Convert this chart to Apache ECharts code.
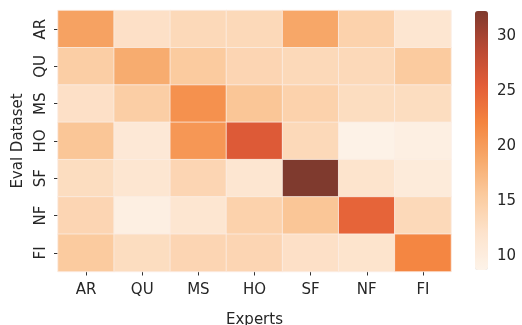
<!DOCTYPE html>
<html>
<head>
<meta charset="utf-8">
<script src="https://cdn.jsdelivr.net/npm/echarts@6/dist/echarts.min.js"></script>
<style>html,body{margin:0;padding:0;background:#fff}#c{width:522px;height:325px}</style>
</head>
<body>
<div id="c"></div>
<script>
var experts = ['AR', 'QU', 'MS', 'HO', 'SF', 'NF', 'FI'];
var evalSets = ['AR', 'QU', 'MS', 'HO', 'SF', 'NF', 'FI'];
var rowAR = [19.5, 12.5, 13.5, 13.5, 19.0, 14.5, 11.5];
var rowQU = [15.0, 18.5, 15.5, 14.0, 13.5, 13.5, 15.5];
var rowMS = [12.5, 15.0, 21.0, 16.0, 14.5, 13.0, 13.0];
var rowHO = [16.0, 11.0, 20.5, 26.0, 13.5, 9.0, 9.5];
var rowSF = [13.0, 11.5, 14.0, 11.5, 32.3, 12.0, 10.5];
var rowNF = [14.0, 9.5, 11.5, 14.5, 16.0, 25.0, 13.5];
var rowFI = [15.5, 13.0, 14.0, 14.0, 12.5, 12.0, 22.0];
var colorbarTicks = [10, 15, 20, 25, 30];
var vMin = 8.74, vMax = 32.3;

var rows = [rowAR, rowQU, rowMS, rowHO, rowSF, rowNF, rowFI];
var data = [];
rows.forEach(function (r, yi) { r.forEach(function (v, xi) { data.push([xi, yi, v]); }); });

var font = 'DejaVu Sans';
var txt = '#262626';
var chart = echarts.init(document.getElementById('c'), null, {renderer: 'canvas'});
chart.setOption({
  animation: false,
  backgroundColor: '#fff',
  grid: [
    {left: 58, right: 71, top: 10.5, bottom: 53.5, outerBoundsMode: 'none', containLabel: false},
    {left: 475, width: 13, top: 11, height: 259, outerBoundsMode: 'none', containLabel: false}
  ],
  xAxis: [
    {type: 'category', data: experts, gridIndex: 0, position: 'bottom',
     name: 'Experts', nameLocation: 'middle', nameGap: 41,
     nameTextStyle: {fontFamily: font, fontSize: 15, color: txt, verticalAlign: 'top'},
     axisLine: {show: false}, splitLine: {show: false},
     axisTick: {show: true, alignWithLabel: true, length: 4, lineStyle: {color: '#333', width: 1}},
     axisLabel: {fontFamily: font, fontSize: 15, color: txt, margin: 11}},
    {type: 'value', gridIndex: 1, show: false, min: 0, max: 1}
  ],
  yAxis: [
    {type: 'category', data: evalSets, gridIndex: 0, inverse: true,
     name: 'Eval Dataset', nameLocation: 'middle', nameGap: 30,
     nameTextStyle: {fontFamily: font, fontSize: 15, color: txt, verticalAlign: 'bottom'},
     axisLine: {show: false}, splitLine: {show: false},
     axisTick: {show: true, alignWithLabel: true, length: 4, lineStyle: {color: '#333', width: 1}},
     axisLabel: {fontFamily: font, fontSize: 15, color: txt, rotate: 90, margin: 9}},
    {type: 'value', gridIndex: 1, position: 'right', min: vMin, max: vMax,
     axisLine: {show: false}, splitLine: {show: false},
     axisTick: {show: true, length: 4, customValues: colorbarTicks, lineStyle: {color: '#333', width: 1}},
     axisLabel: {fontFamily: font, fontSize: 15, color: txt, margin: 9, customValues: colorbarTicks}}
  ],
  visualMap: {
    type: 'continuous', seriesIndex: 0, min: vMin, max: vMax,
    calculable: false, show: true, orient: 'vertical',
    left: 475, top: 11, itemWidth: 13, itemHeight: 259, padding: 0,
    text: null, showLabel: false,
    inRange: {color: ['#fdf3e9', '#fde3cc', '#fbcb9f', '#f7a96a', '#f4843f', '#e35d38', '#b84934', '#7f3a2e']}
  },
  series: [
    {type: 'heatmap', xAxisIndex: 0, yAxisIndex: 0, data: data,
     itemStyle: {borderColor: '#fbeee4', borderWidth: 0.8},
     emphasis: {disabled: true}},
    {type: 'scatter', xAxisIndex: 1, yAxisIndex: 1, data: [], silent: true}
  ]
});
</script>
</body>
</html>
